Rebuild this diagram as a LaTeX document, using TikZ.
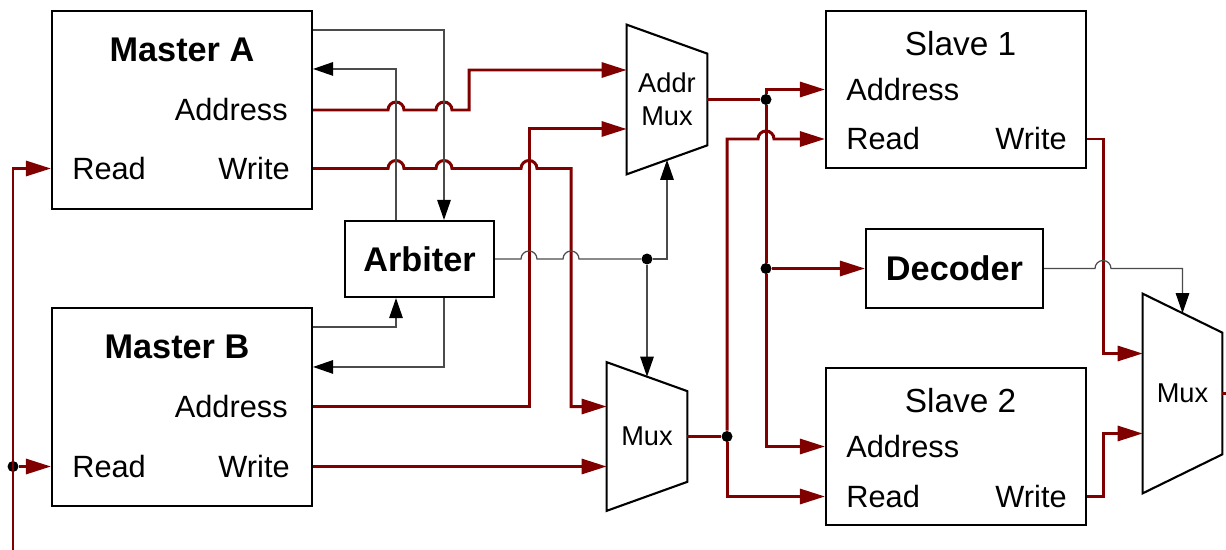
\documentclass[tikz,border=0pt]{standalone}
\usepackage{fontspec}
\setmainfont{Liberation Sans}
\usetikzlibrary{arrows.meta}
\definecolor{busred}{RGB}{128,0,0}
\definecolor{ctlgray}{RGB}{75,75,75}
\newcommand{\hop}{arc[start angle=180,end angle=0,radius=8]}

\begin{document}
\begin{tikzpicture}[x=0.02cm, y=0.02cm]
    \tikzstyle{blk} = [rectangle, draw, line width=1.2pt, fill=white, inner sep=0pt]
    \tikzstyle{title} = [inner sep=0pt, font=\bfseries\fontsize{19.5}{23}\selectfont]
    \tikzstyle{stitle} = [inner sep=0pt, font=\fontsize{19}{23}\selectfont]
    \tikzstyle{port} = [inner sep=0pt, font=\fontsize{17.5}{20}\selectfont]
    \tikzstyle{mux} = [inner sep=0pt, minimum width=1.6cm, align=center, font=\fontsize{15.5}{18.7}\selectfont]
    \tikzstyle{wire} = [draw=busred, line width=1.7pt]
    \tikzstyle{bus} = [wire, -{Triangle[length=0.5cm,width=0.3cm]}]
    \tikzstyle{ctl} = [draw=ctlgray, line width=0.7pt]
    \tikzstyle{ctlarrow} = [ctl, -{Triangle[length=0.4cm,width=0.27cm,black]}]
    \tikzstyle{dot} = [circle, fill=black, inner sep=0pt, minimum size=0.22cm]

    \useasboundingbox (0,0) rectangle (1226,-550);

    % Masters
    \node [blk, minimum width=5.2cm, minimum height=3.96cm] (mA) at (182,-110) {};
    \node [title] (mAt) at (182,-49.5) {Master A};
    \node [port, anchor=east] (mAad) at (288,-110) {Address};
    \node [port, anchor=east] (mAwr) at (290,-168.5) {Write};
    \node [port, anchor=west] (mArd) at (72,-168.5) {Read};

    \node [blk, minimum width=5.2cm, minimum height=3.96cm] (mB) at (182,-407) {};
    \node [title] (mBt) at (177,-347) {Master B};
    \node [port, anchor=east] (mBad) at (288,-406.5) {Address};
    \node [port, anchor=east] (mBwr) at (290,-466.5) {Write};
    \node [port, anchor=west] (mBrd) at (72,-466.5) {Read};

    \node [blk, title, minimum width=2.98cm, minimum height=1.52cm] (arb) at (419.5,-259) {Arbiter};

    % Muxes
    \node [mux, minimum height=2.98cm] (amux) at (667,-99.5) {Addr\\Mux};
    \node [mux, minimum height=2.96cm] (lmux) at (647,-436.5) {Mux};
    \node [mux, minimum width=1.58cm, minimum height=3.98cm] (rmux) at (1182.5,-393.5) {Mux};
    \foreach \m/\d in {amux/0.58cm, lmux/0.58cm, rmux/0.78cm}
        \draw [line width=1.2pt] (\m.north west) -- ([yshift=-\d]\m.north east)
            -- ([yshift=\d]\m.south east) -- (\m.south west) -- cycle;

    % Slaves
    \node [blk, minimum width=5.2cm, minimum height=3.14cm] (s1) at (956,-89.5) {};
    \node [stitle] (s1t) at (960.5,-43.5) {Slave 1};
    \node [port, anchor=west] (s1ad) at (846,-89.5) {Address};
    \node [port, anchor=west] (s1rd) at (846,-139) {Read};
    \node [port, anchor=east] (s1wr) at (1067,-139) {Write};

    \node [blk, minimum width=5.2cm, minimum height=3.14cm] (s2) at (956,-446.5) {};
    \node [stitle] (s2t) at (960.5,-401) {Slave 2};
    \node [port, anchor=west] (s2ad) at (846,-446.5) {Address};
    \node [port, anchor=west] (s2rd) at (846,-496.5) {Read};
    \node [port, anchor=east] (s2wr) at (1067,-496.5) {Write};

    \node [blk, title, minimum width=3.54cm, minimum height=1.58cm] (dec) at (954.5,-268.5) {Decoder};

    % Junctions
    \node [dot] (rddot) at (13,-466.5) {};
    \node [dot] (ardot) at (647,-259) {};
    \node [dot] (amdot) at (766,-99.5) {};
    \node [dot] (decdot) at (766,-268.5) {};
    \node [dot] (lmdot) at (727,-436.5) {};
    \coordinate (rdsrc) at (13,-550);
    \coordinate (rmout) at (1226,-393.5);

    % Read data back to the masters
    \draw [bus] (rdsrc) |- (mA.west |- mArd);
    \draw [bus] (rddot) -- (mB.west |- mBrd);

    % Master buses
    \draw [bus] (mA.east |- mAad) -- (388,-110) \hop -- (436,-110) \hop -- (469,-110) |- ([yshift=0.59cm]amux.west);
    \draw [bus] (mA.east |- mAwr) -- (388,-168.5) \hop -- (436,-168.5) \hop -- (521,-168.5) \hop -- (571,-168.5) |- ([yshift=0.6cm]lmux.west);
    \draw [bus] (mB.east |- mBad) -- (529,-406.5) |- ([yshift=-0.59cm]amux.west);
    \draw [bus] (mB.east |- mBwr) -- ([yshift=-0.6cm]lmux.west);

    % Arbitration
    \draw [ctlarrow] ([yshift=-0.4cm]mA.north east) -| ([xshift=0.49cm]arb.north);
    \draw [ctlarrow] ([xshift=-0.47cm]arb.north) |- ([yshift=-1.18cm]mA.north east);
    \draw [ctlarrow] ([yshift=-0.4cm]mB.north east) -| ([xshift=-0.47cm]arb.south);
    \draw [ctlarrow] ([xshift=0.49cm]arb.south) |- ([yshift=-1.2cm]mB.north east);
    \draw [ctl] (arb.east) -- (521,-259) \hop -- (563,-259) \hop -- (ardot);
    \draw [ctlarrow] (ardot) -- ([yshift=-0.29cm]lmux.north);
    \draw [ctlarrow] (ardot) -| ([yshift=0.29cm]amux.south);

    % Slave side
    \draw [wire] (amux.east) -- (amdot);
    \draw [bus] (amdot) |- (s1.west |- s1ad);
    \draw [wire] (amdot) -- (decdot);
    \draw [bus] (decdot) -- (dec);
    \draw [bus] (decdot) |- (s2.west |- s2ad);
    \draw [wire] (lmux.east) -- (lmdot);
    \draw [bus] (lmdot) -- (727,-139) -- (758,-139) \hop -- (s1.west |- s1rd);
    \draw [bus] (lmdot) |- (s2.west |- s2rd);

    % Write data mux
    \draw [bus] (s1.east |- s1wr) -- (1103,-139) |- ([yshift=0.8cm]rmux.west);
    \draw [bus] (s2.east |- s2wr) -- (1103,-496.5) |- ([yshift=-0.8cm]rmux.west);
    \draw [ctlarrow] (dec.east) -- (1095,-268.5) \hop -| ([yshift=-0.39cm]rmux.north);
    \draw [wire] (rmux.east) -- (rmout);
\end{tikzpicture}
\end{document}
